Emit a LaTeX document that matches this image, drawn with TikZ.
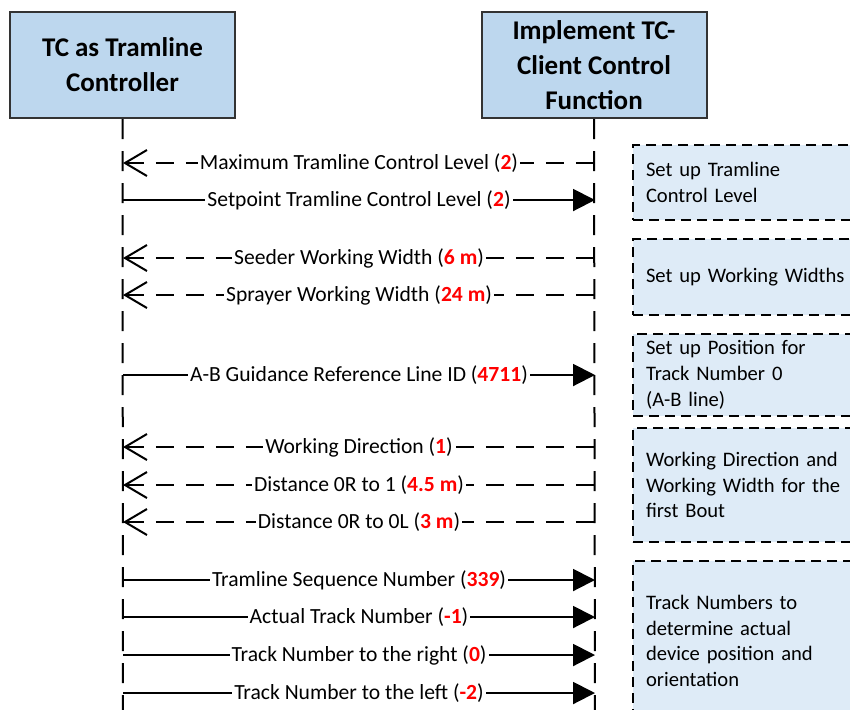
\documentclass[tikz,border=0pt]{standalone}
\usepackage{fontspec}
\setmainfont{Carlito}
\usetikzlibrary{arrows.meta}
\definecolor{headblue}{HTML}{BDD7EE}
\definecolor{noteblue}{HTML}{DEEBF7}
\definecolor{valred}{HTML}{FF0000}
\newcommand{\val}[1]{\textcolor{valred}{\textbf{#1}}}

\begin{document}
\begin{tikzpicture}[x=0.5pt, y=-0.5pt,
  actor/.style={draw=black!80, line width=1pt, fill=headblue, minimum width=112.5pt, minimum height=53pt, align=center, font=\fontsize{13.5}{17.5}\selectfont\bfseries},
  lifeline/.style={line width=1pt, dash pattern=on 10pt off 6pt},
  request/.style={line width=1pt, -{Triangle[length=11pt,width=11pt]}},
  reply/.style={line width=1pt, dash pattern=on 9pt off 6pt, {Straight Barb[length=11pt,width=13pt]}-},
  msglabel/.style={fill=white, inner sep=1pt, font=\fontsize{10.8}{13}\selectfont},
  note/.style={draw, line width=1pt, dash pattern=on 5pt off 3pt, fill=noteblue, anchor=north west, text width=150pt, inner xsep=6.5pt, align=left, font=\fontsize{10.3}{12.8}\selectfont}]
\clip (0,0) rectangle (850,709);
%\draw[help lines, color=gray!30, dashed] (0,0) grid[step=50] (850,709);
\node[actor] (tc) at (122.5,65) {TC as Tramline\\Controller};
\node[actor] (cf) at (594,65) {Implement TC-\\Client Control\\Function};
\coordinate (tcend) at (123,720);
\coordinate (cfend) at (595,720);
\draw[lifeline] (tc.south) -- (tcend);
\draw[lifeline] (cf.south) -- (cfend);
\foreach \i/\y in {1/163, 2/200, 3/258, 4/295, 5/375, 6/447, 7/485, 8/522, 9/580, 10/617, 11/655, 12/693}
  {\coordinate (tc\i) at (123,\y); \coordinate (cf\i) at (595,\y);}
% tramline control level
\draw[reply] (tc1) -- node[msglabel] {Maximum Tramline Control Level (\val{2})} (cf1);
\draw[request] (tc2) -- node[msglabel] {Setpoint Tramline Control Level (\val{2})} (cf2);
% working widths
\draw[reply] (tc3) -- node[msglabel] {Seeder Working Width (\val{6 m})} (cf3);
\draw[reply] (tc4) -- node[msglabel] {Sprayer Working Width (\val{24 m})} (cf4);
% reference line
\draw[request] (tc5) -- node[msglabel] {A-B Guidance Reference Line ID (\val{4711})} (cf5);
% first bout
\draw[reply] (tc6) -- node[msglabel] {Working Direction (\val{1})} (cf6);
\draw[reply] (tc7) -- node[msglabel] {Distance 0R to 1 (\val{4.5 m})} (cf7);
\draw[reply] (tc8) -- node[msglabel] {Distance 0R to 0L (\val{3 m})} (cf8);
% track numbers
\draw[request] (tc9) -- node[msglabel] {Tramline Sequence Number (\val{339})} (cf9);
\draw[request] (tc10) -- node[msglabel] {Actual Track Number (\val{-1})} (cf10);
\draw[request] (tc11) -- node[msglabel] {Track Number to the right (\val{0})} (cf11);
\draw[request] (tc12) -- node[msglabel] {Track Number to the left (\val{-2})} (cf12);
% notes
\node[note, minimum height=37.5pt] (levelnote) at (632,144) {Set up Tramline\\Control Level};
\node[note, minimum height=38pt] (widthnote) at (632,238) {Set up Working Widths};
\node[note, minimum height=37.5pt] (abnote) at (632,333) {Set up Position for\\Track Number 0\\(A-B line)};
\node[note, minimum height=57pt] (boutnote) at (632,427) {Working Direction and\\Working Width for the\\first Bout};
\node[note, minimum height=80pt] (tracknote) at (632,560) {Track Numbers to\\determine actual\\device position and\\orientation};
\end{tikzpicture}
\end{document}
